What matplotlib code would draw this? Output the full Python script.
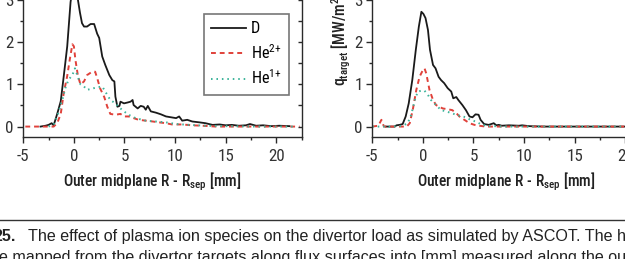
import matplotlib
matplotlib.use("Agg")
import matplotlib.pyplot as plt
from matplotlib import font_manager as fm
from matplotlib.ticker import MultipleLocator

# ---------------- data ----------------
xl_D = [-3.3, -2.8, -2.5, -2.2, -2.0, -1.65, -1.3, -1.0, -0.66, -0.33, -0.15, 0.05, 0.2, 0.4, 0.6, 0.8,
        1.0, 1.3, 1.65, 2.0, 2.3, 2.5, 2.8, 3.1, 3.5, 3.8, 4.0, 4.1, 4.3, 4.5, 4.6, 4.95, 5.3, 5.6,
        5.8, 5.9, 6.3, 6.6, 6.9, 7.1, 7.3, 7.6, 8.1, 8.6, 9.1, 9.6, 10.1, 10.4, 10.7, 11.2, 11.7,
        12.4, 13.0, 13.7, 14.4, 15.0, 15.6, 16.3, 17.0, 17.4, 18.0, 18.7, 19.5, 20.3, 21.3]
yl_D = [0.0, 0.02, 0.04, 0.08, 0.03, 0.3, 0.6, 1.2, 1.9, 2.95, 3.25, 3.38, 3.3, 3.0, 2.7, 2.45,
        2.37, 2.37, 2.43, 2.43, 2.2, 2.1, 1.66, 1.46, 1.22, 1.1, 1.07, 0.71, 0.47, 0.49, 0.59, 0.55,
        0.57, 0.59, 0.63, 0.51, 0.43, 0.49, 0.47, 0.40, 0.49, 0.36, 0.33, 0.29, 0.24, 0.22, 0.20,
        0.24, 0.14, 0.16, 0.12, 0.10, 0.08, 0.04, 0.05, 0.03, 0.04, 0.02, 0.03, 0.06, 0.02, 0.03,
        0.01, 0.02, 0.01]

xl_He2 = [-4.8, -4.0, -3.0, -2.0, -1.65, -1.3, -1.0, -0.66, -0.4, -0.15, 0.0, 0.15, 0.4, 0.65,
          1.0, 1.3, 1.8, 2.1, 2.3, 2.6, 3.0, 3.3, 3.6, 4.1, 4.6, 4.95, 5.4, 5.9, 6.4, 7.1, 7.8,
          8.4, 9.1, 9.7, 10.7, 11.7, 12.7, 14.0, 16.0, 18.0, 20.0, 22.3]
yl_He2 = [0.0, 0.0, 0.0, 0.0, 0.08, 0.3, 0.8, 1.2, 1.6, 1.95, 1.9, 1.58, 1.2, 1.0, 1.07, 1.22,
          1.3, 1.3, 1.15, 0.9, 0.7, 0.47, 0.3, 0.28, 0.3, 0.24, 0.24, 0.2, 0.16, 0.14, 0.12, 0.1,
          0.08, 0.05, 0.05, 0.03, 0.02, 0.0, 0.0, 0.0, 0.0, 0.0]

xl_He1 = [-2.5, -2.0, -1.65, -1.15, -0.8, -0.5, -0.15, 0.1, 0.33, 0.65, 1.0, 1.3, 1.8, 2.3, 2.8,
          3.1, 3.6, 4.1, 4.45, 4.95, 5.4, 6.1, 7.1, 8.1, 9.1, 10.1, 11.4, 13.0, 15.0, 18.0, 21.8]
yl_He1 = [0.0, 0.05, 0.24, 0.63, 0.95, 1.12, 1.22, 1.38, 1.22, 1.0, 0.95, 0.87, 0.9, 0.93, 0.95,
          0.83, 0.63, 0.55, 0.46, 0.36, 0.28, 0.2, 0.14, 0.12, 0.1, 0.06, 0.04, 0.02, 0.01, 0.0, 0.0]

xr_D = [-3.65, -2.8, -2.6, -2.3, -2.0, -1.7, -1.4, -1.05, -0.7, -0.4, -0.15, 0.05, 0.26, 0.5, 0.7,
        1.0, 1.25, 1.55, 1.8, 2.1, 2.45, 2.8, 3.0, 3.3, 3.5, 3.9, 4.25, 4.6, 4.9, 5.2, 5.5, 5.7,
        6.05, 6.5, 7.0, 7.25, 7.5, 7.8, 8.5, 9.5, 9.8, 10.5, 12.0, 15.0, 18.0, 22.0]
yr_D = [0.0, 0.0, 0.03, 0.04, 0.06, 0.24, 0.55, 1.1, 1.82, 2.37, 2.72, 2.67, 2.57, 2.29, 1.82,
        1.46, 1.38, 1.18, 1.1, 1.03, 0.91, 0.83, 0.67, 0.70, 0.63, 0.51, 0.39, 0.24, 0.22, 0.29,
        0.28, 0.16, 0.06, 0.04, 0.08, 0.03, 0.04, 0.02, 0.03, 0.02, 0.03, 0.01, 0.0, 0.0, 0.0, 0.0]

xr_He2 = [-5.0, -4.4, -4.1, -3.85, -3.0, -2.0, -1.6, -1.3, -1.0, -0.65, -0.33, 0.0, 0.16, 0.33,
          0.65, 1.0, 1.3, 1.6, 1.96, 2.45, 2.9, 3.3, 3.6, 4.1, 4.6, 5.1, 5.55, 6.2, 8.0, 12.0,
          16.0, 22.0]
yr_He2 = [0.0, 0.02, 0.16, 0.0, 0.0, 0.0, 0.0, 0.08, 0.4, 0.87, 1.18, 1.34, 1.38, 1.26, 0.87,
          0.63, 0.51, 0.47, 0.43, 0.41, 0.39, 0.32, 0.24, 0.16, 0.08, 0.04, 0.02, 0.0, 0.0, 0.0,
          0.0, 0.0]

xr_He1 = [-5.0, -3.0, -2.0, -1.5, -1.15, -0.8, -0.5, -0.15, 0.16, 0.5, 0.8, 1.3, 1.8, 2.3, 2.8,
          3.3, 3.75, 4.25, 4.7, 5.2, 5.7, 6.2, 8.0, 12.0, 16.0, 22.0]
yr_He1 = [0.0, 0.0, 0.02, 0.08, 0.28, 0.63, 0.83, 0.85, 0.85, 0.75, 0.63, 0.51, 0.39, 0.36, 0.32,
          0.28, 0.25, 0.22, 0.16, 0.12, 0.06, 0.02, 0.0, 0.0, 0.0, 0.0]

series_labels = ["D", r"He$^{\mathregular{2{+}}}$", r"He$^{\mathregular{1{+}}}$"]
xlabel = r"Outer midplane R - R$_{\mathregular{sep}}$ [mm]"
ylabel = r"q$_{\mathregular{target}}$ [MW/m$^{\mathregular{2}}$]"
caption_num = "25."
caption_l1 = "The effect of plasma ion species on the divertor load as simulated by ASCOT. The h"
caption_l2 = "e mapped from the divertor targets along flux surfaces into [mm] measured along the ou"

# ---------------- fonts ----------------
names = {f.name for f in fm.fontManager.ttflist}
SANS = "Liberation Sans" if "Liberation Sans" in names else "DejaVu Sans"

def find_condensed():
    for p in ["Liberation Sans Narrow", "Roboto Condensed", "DejaVu Sans Condensed",
              "Noto Sans Condensed", "Open Sans Condensed", "Arial Narrow"]:
        if p in names:
            return {"family": [p, "DejaVu Sans"]}
    for fam in ["Liberation Sans", "Roboto", "Noto Sans", "DejaVu Sans", "Open Sans", "Lato", "Inter"]:
        for f in fm.fontManager.ttflist:
            if f.name == fam and f.stretch == "condensed":
                return {"family": [fam, "DejaVu Sans"], "stretch": "condensed"}
    return {"family": [SANS, "DejaVu Sans"]}

COND = find_condensed()
plt.rcParams["font.family"] = [SANS, "DejaVu Sans"]
plt.rcParams["axes.unicode_minus"] = False
plt.rcParams["mathtext.fontset"] = "custom"
plt.rcParams["mathtext.rm"] = SANS

W, H = 625, 259
fig = plt.figure(figsize=(W / 100, H / 100), dpi=100)
r = fig.canvas.get_renderer()

def fx(px):
    return px / W

def fy(py):
    return 1 - py / H

def fit_size(text, target_w, **kw):
    t = fig.text(0, 0, text, fontsize=10, **kw)
    w = t.get_window_extent(r).width
    t.remove()
    return 10 * target_w / w

YMIN, YMAX = -0.24, 3.5
XMIN, XMAX = -5.0, 22.5
pxmm = 10.12
pxy = 42.2
axh_px = (YMAX - YMIN) * pxy
axw_px = (XMAX - XMIN) * pxmm

ink = "#2a2a2a"
c_D = "#1a1a1a"
c_He2 = "#e0413a"
c_He1 = "#3cb39a"

tick_fs = fit_size("10", 16.5, **COND)

def style(ax):
    ax.set_xlim(XMIN, XMAX)
    ax.set_ylim(YMIN, YMAX)
    ax.xaxis.set_major_locator(MultipleLocator(5))
    ax.xaxis.set_minor_locator(MultipleLocator(2.5))
    ax.yaxis.set_major_locator(MultipleLocator(1))
    ax.yaxis.set_minor_locator(MultipleLocator(0.5))
    for s in ax.spines.values():
        s.set_color(ink)
        s.set_linewidth(1.0)
    ax.tick_params(which="major", direction="out", length=4, width=1.0, color=ink,
                   labelsize=tick_fs, labelcolor="#333333", pad=3)
    ax.tick_params(which="minor", direction="out", length=2.5, width=1.0, color=ink)
    ax.tick_params(axis="x", which="major", pad=5)
    ax.set_yticks([0, 1, 2, 3])
    for lab in ax.get_xticklabels() + ax.get_yticklabels():
        lab.set_family(COND["family"])
        if "stretch" in COND:
            lab.set_stretch(COND["stretch"])
    tw = ax.twinx()
    tw.set_ylim(YMIN, YMAX)
    tw.yaxis.set_major_locator(MultipleLocator(0.5))
    tw.tick_params(direction="in", length=3, width=1.0, color=ink, labelright=False)
    for s in tw.spines.values():
        s.set_visible(False)

def plot_series(ax, xs, ys):
    (xD, x2, x1), (yD, y2, y1) = xs, ys
    lD, = ax.plot(xD, yD, color=c_D, lw=1.3, label=series_labels[0])
    l2, = ax.plot(x2, y2, color=c_He2, lw=1.4, ls=(0, (2.5, 2.0)), label=series_labels[1])
    l1, = ax.plot(x1, y1, color=c_He1, lw=1.4, ls=(0, (0.8, 2.0)), label=series_labels[2])
    return [lD, l2, l1]

# left panel
ax1 = fig.add_axes([fx(23.3), fy(136.7), fx(axw_px), axh_px / H])
style(ax1)
handles = plot_series(ax1, [xl_D, xl_He2, xl_He1], [yl_D, yl_He2, yl_He1])

leg_fs = fit_size(series_labels[1], 31.0, **COND)
em = leg_fs * 100 / 72.0
leg = ax1.legend(handles=handles, loc="upper right", bbox_to_anchor=(fx(289), fy(14)),
                 bbox_transform=fig.transFigure, borderaxespad=0, fancybox=False,
                 frameon=True, edgecolor="#555555", handlelength=35.0 / em,
                 handletextpad=5.0 / em, labelspacing=0.42, borderpad=0.45,
                 borderaxespad_=None) if False else ax1.legend(
                 handles=handles, loc="upper right", bbox_to_anchor=(fx(289), fy(14)),
                 bbox_transform=fig.transFigure, borderaxespad=0, fancybox=False,
                 frameon=True, edgecolor="#555555", handlelength=35.0 / em,
                 handletextpad=5.0 / em, labelspacing=0.42, borderpad=0.45,
                 prop=dict(size=leg_fs, **COND))
leg.get_frame().set_linewidth(1.2)

# right panel
ax2 = fig.add_axes([fx(372.3), fy(136.7), fx(axw_px), axh_px / H])
style(ax2)
plot_series(ax2, [xr_D, xr_He2, xr_He1], [yr_D, yr_He2, yr_He1])

# axis labels
lab_fs = fit_size(xlabel, 179.0, fontweight="medium", **COND)
for cx in (152, 506):
    fig.text(fx(cx), fy(182), xlabel, ha="center", va="center", fontsize=lab_fs,
             fontweight="medium", color="#222222", **COND)
fig.text(fx(341), fy(86), ylabel, rotation=90, ha="center", va="bottom", fontsize=lab_fs,
         fontweight="medium", color="#222222", **COND)

# caption rule and text
fig.add_artist(plt.Line2D([0, 1], [fy(219.5), fy(219.5)], transform=fig.transFigure,
                          color="#333333", lw=1.0))
cap_fs = fit_size(caption_l1, 599.0, family=SANS)
fig.text(fx(16), fy(241), caption_num, ha="right", va="baseline", fontsize=cap_fs,
         fontweight="bold", family=SANS, color="#222222")
fig.text(fx(28), fy(241), caption_l1, ha="left", va="baseline", fontsize=cap_fs,
         family=SANS, color="#222222")
fig.text(fx(-1), fy(262), caption_l2, ha="left", va="baseline", fontsize=cap_fs,
         family=SANS, color="#222222")

fig.savefig("out.png", dpi=100)
